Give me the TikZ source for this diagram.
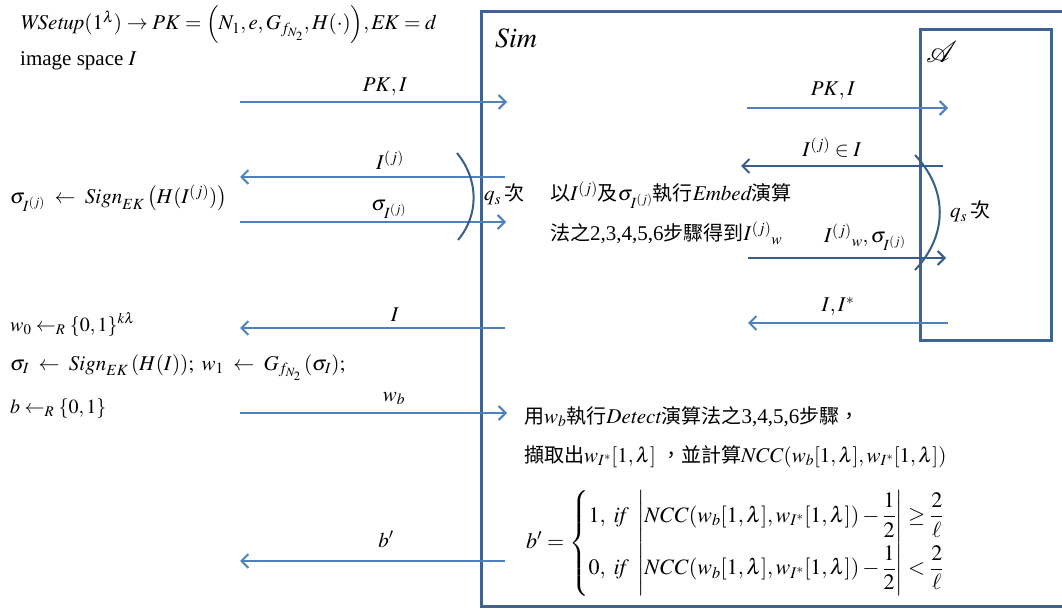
\documentclass[tikz,border=0pt]{standalone}
\usepackage{amsmath}
\usepackage{mathptmx}
\usepackage[no-math]{fontspec}
\setmainfont{Liberation Serif}
\newfontfamily\cjk{Noto Sans CJK TC}
\newcommand\zhtxt[1]{{\cjk\fontsize{20}{24}\selectfont #1}}
\usetikzlibrary{arrows.meta}
\definecolor{lblue}{RGB}{79,129,189}
\definecolor{dblue}{RGB}{56,93,138}
\definecolor{bblue}{RGB}{63,99,147}
\begin{document}
\begin{tikzpicture}[x=1pt,y=-1pt, font=\fontsize{21}{25}\selectfont,
  tip/.style={-{Straight Barb[length=7pt,width=14pt]}},
  lt/.style={draw=lblue, line width=2pt, tip},
  dk/.style={draw=dblue, line width=2pt, tip},
  arcl/.style={draw=dblue, line width=2pt},
  box/.style={draw=bblue, line width=3pt},
  lbl/.style={inner sep=0pt, anchor=base},
  txt/.style={inner sep=0pt, anchor=base west}]
\useasboundingbox (0,0) rectangle (1062,609);

% boxes
\draw[box] (481,12) rectangle (1080,606);
\draw[box] (920,30) rectangle (1051,340);
\node[txt, font=\fontsize{28}{32}\selectfont] (simlbl) at (495,48) {$\mathit{Sim}$};
\node[txt, font=\fontsize{30}{34}\selectfont] (advlbl) at (926,63) {$\mathcal{A}$};

% top-left text
\node[txt] (setup) at (20,30) {$\mathit{WSetup}(1^{\lambda})\rightarrow \mathit{PK}=\Bigl(N_1,e,G_{f_{N_2}},H(\cdot)\Bigr),\mathit{EK}=d$};
\node[txt] (space) at (20,66) {image space $I$};

% left arrows
\coordinate (l1a) at (240,102); \coordinate (l1b) at (507,102);
\draw[lt] (l1a) -- (l1b);
\node[lbl] (l1t) at (385,92) {$\mathit{PK},I$};

\coordinate (l2a) at (505,177); \coordinate (l2b) at (240,177);
\draw[lt] (l2a) -- (l2b);
\node[lbl] (l2t) at (390,170) {$I^{(j)}$};

\coordinate (l3a) at (240,222); \coordinate (l3b) at (506,222);
\draw[lt] (l3a) -- (l3b);
\node[lbl] (l3t) at (389,211) {$\sigma_{I^{(j)}}$};

\coordinate (l4a) at (505,328); \coordinate (l4b) at (240,328);
\draw[lt] (l4a) -- (l4b);
\node[lbl] (l4t) at (395,322) {$I$};

\coordinate (l5a) at (240,413); \coordinate (l5b) at (507,413);
\draw[lt] (l5a) -- (l5b);
\node[lbl] (l5t) at (394,401) {$w_b$};

\coordinate (l6a) at (505,561); \coordinate (l6b) at (240,561);
\draw[lt] (l6a) -- (l6b);
\node[lbl] (l6t) at (386,547) {$b'$};

% left arc
\draw[arcl] (457,153) .. controls (479,180) and (479,215) .. (458,240);
\node[txt] (qs1) at (484,201) {$q_s$\,\zhtxt{次}};

% left formulas
\node[txt] (sig) at (10,204) {$\sigma_{I^{(j)}}\;\leftarrow\; \mathit{Sign}_{EK}\,\bigl(H(I^{(j)})\bigr)$};
\node[txt, font=\fontsize{20}{24}\selectfont] (w0) at (10,331) {$w_0\leftarrow_R\{0,1\}^{k\lambda}$};
\node[txt] (w1) at (10,370) {$\sigma_I\;\leftarrow\; \mathit{Sign}_{EK}\,(H(I));\ w_1\;\leftarrow\; G_{f_{N_2}}\,(\sigma_I);$};
\node[txt, font=\fontsize{20}{24}\selectfont] (bb) at (10,413) {$b\leftarrow_R\{0,1\}$};

% middle text
\node[txt] (emb1) at (550,201) {\zhtxt{以}$I^{(j)}$\zhtxt{及}$\sigma_{I^{(j)}}$\zhtxt{執行}$\mathit{Embed}$\zhtxt{演算}};
\node[txt] (emb2) at (550,241) {\zhtxt{法之}2,3,4,5,6\zhtxt{步驟得到}$I^{(j)}{}_w$};

% right arrows
\coordinate (r1a) at (747,108); \coordinate (r1b) at (948,108);
\draw[lt] (r1a) -- (r1b);
\node[lbl] (r1t) at (833,96) {$\mathit{PK},I$};

\coordinate (r2a) at (943,166); \coordinate (r2b) at (741,166);
\draw[dk] (r2a) -- (r2b);
\node[lbl] (r2t) at (832,157) {$I^{(j)}\in I$};

\coordinate (r3a) at (748,258); \coordinate (r3b) at (946,258);
\draw[dk] (r3a) -- (r3b);
\node[lbl] (r3t) at (865,243) {$I^{(j)}{}_w,\sigma_{I^{(j)}}$};

\coordinate (r4a) at (948,323); \coordinate (r4b) at (748,323);
\draw[lt] (r4a) -- (r4b);
\node[lbl] (r4t) at (838,312) {$I,I^*$};

\draw[arcl] (915,155) .. controls (948,190) and (948,235) .. (915,270);
\node[txt] (qs2) at (950,218) {$q_s$\,\zhtxt{次}};

% bottom text
\node[txt] (det1) at (524,423) {\zhtxt{用}$w_b$\zhtxt{執行}$\mathit{Detect}$\zhtxt{演算法之}3,4,5,6\zhtxt{步驟，}};
\node[txt] (det2) at (524,462) {\zhtxt{擷取出}$w_{I^*}[1,\lambda]$\ \zhtxt{，並計算}$\mathit{NCC}(w_b[1,\lambda],w_{I^*}[1,\lambda])$};

\node[inner sep=0pt, anchor=west, font=\fontsize{22}{26}\selectfont] (bform) at (526,543) {$b'=\begin{cases}1,\ \mathit{if}\ \left|\mathit{NCC}(w_b[1,\lambda],w_{I^*}[1,\lambda])-\dfrac{1}{2}\right|\ge\dfrac{2}{\ell}\\[8pt] 0,\ \mathit{if}\ \left|\mathit{NCC}(w_b[1,\lambda],w_{I^*}[1,\lambda])-\dfrac{1}{2}\right|<\dfrac{2}{\ell}\end{cases}$};
\end{tikzpicture}
\end{document}
